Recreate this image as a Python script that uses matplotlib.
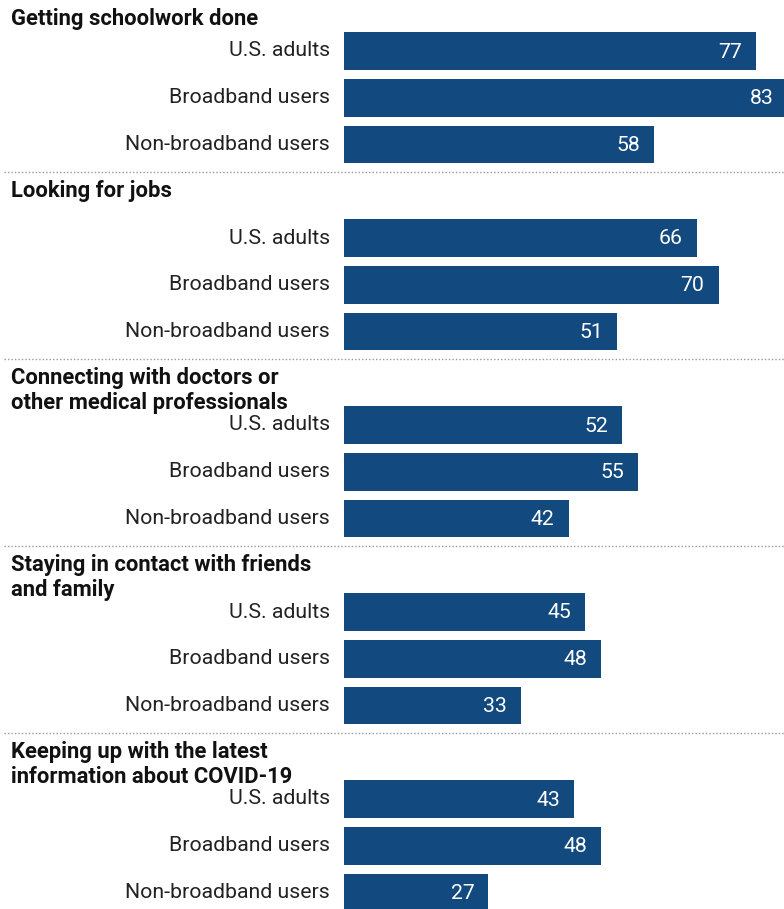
import matplotlib

matplotlib.use("Agg")
import matplotlib.pyplot as plt

TITLES = [
    "Getting schoolwork done",
    "Looking for jobs",
    "Connecting with doctors or\nother medical professionals",
    "Staying in contact with friends\nand family",
    "Keeping up with the latest\ninformation about COVID-19",
]
GROUPS = ["U.S. adults", "Broadband users", "Non-broadband users"]
US_ADULTS = [77, 66, 52, 45, 43]
BROADBAND = [83, 70, 55, 48, 48]
NON_BROADBAND = [58, 51, 42, 33, 27]

BAR_COLOR = "#12497f"
W, H = 784, 909
BAR_LEFT = 344
PX_PER_UNIT = 5.35
FIRST_BAR = 51
GROUP_STEP = 187
ROW_STEP = 46.8
BAR_H = 37.5

fig = plt.figure(figsize=(W / 100, H / 100), dpi=100)
ax = fig.add_axes([BAR_LEFT / W, 0, (W - BAR_LEFT) / W, 1])
ax.set_xlim(0, (W - BAR_LEFT) / PX_PER_UNIT)
ax.set_ylim(H, 0)
ax.axis("off")

span = W - BAR_LEFT
label_font = "Roboto"
title_font = "Roboto"

for g, title in enumerate(TITLES):
    top = FIRST_BAR + g * GROUP_STEP
    values = [US_ADULTS[g], BROADBAND[g], NON_BROADBAND[g]]
    ys = [top + i * ROW_STEP for i in range(3)]
    ax.barh(ys, values, height=BAR_H, color=BAR_COLOR, clip_on=True)
    for y, v, name in zip(ys, values, GROUPS):
        ax.text(-14 / span, y, name, transform=ax.get_yaxis_transform(),
                ha="right", va="center", fontsize=15.3, family=label_font,
                color="#222222", clip_on=False)
        ax.text(v - 14 / PX_PER_UNIT, y + 1, str(v), ha="right", va="center",
                fontsize=15.3, family=label_font, color="white")

    if g == 0:
        title_y = 18
    else:
        sep_y = top - 66
        ax.axhline(sep_y, xmin=(4 - BAR_LEFT) / span, xmax=1, color="#999999",
                   linestyle=(0, (1, 1.5)), linewidth=1, clip_on=False)
        title_y = sep_y + 18
    ax.text((11 - BAR_LEFT) / span, title_y - 10, title,
            transform=ax.get_yaxis_transform(), ha="left", va="top",
            fontsize=15.8, fontweight="bold", family=title_font,
            color="#111111", linespacing=1.2, clip_on=False)

fig.savefig("out.png", dpi=100)
